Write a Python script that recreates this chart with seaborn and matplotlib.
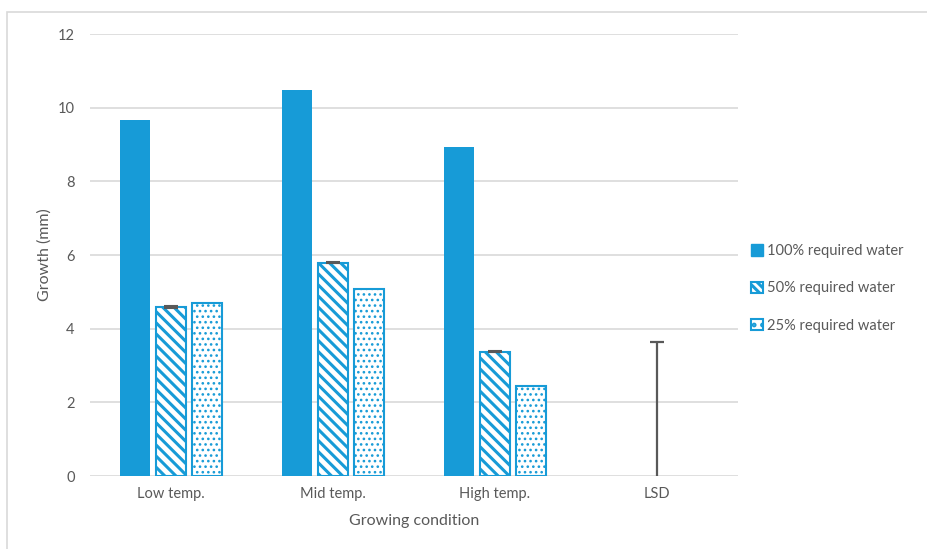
import matplotlib
matplotlib.use("Agg")
import matplotlib.pyplot as plt
import seaborn as sns
import pandas as pd
import numpy as np
from matplotlib.patches import Rectangle, Patch

conditions = ["Low temp.", "Mid temp.", "High temp.", "LSD"]
bar_conditions = ["Low temp.", "Mid temp.", "High temp."]
series = ["100% required water", "50% required water", "25% required water"]
water_100 = [9.67, 10.49, 8.94]
water_50 = [4.59, 5.79, 3.38]
water_25 = [4.71, 5.08, 2.45]
err_50 = [0.02, 0.02, 0.02]
lsd_value = 3.64

BLUE = "#179bd7"
GRID = "#d9d9d9"
TXT = "#595959"

sns.set_theme(style="white")
plt.rcParams["font.family"] = ["Lato", "DejaVu Sans"]
plt.rcParams["hatch.linewidth"] = 2.2

rows = []
for s, vals in zip(series, [water_100, water_50, water_25]):
    for c, v in zip(bar_conditions, vals):
        rows.append({"condition": c, "series": s, "value": v})
df = pd.DataFrame(rows)

fig = plt.figure(figsize=(9.27, 5.49), dpi=100)
ax = fig.add_axes([90/927, 1-476/549, (738-90)/927, (476-34)/549])

sns.barplot(data=df, x="condition", y="value", hue="series", order=conditions,
            hue_order=series, palette=[BLUE]*3, width=0.667, gap=0.17,
            errorbar=None, ax=ax, legend=False, saturation=1)

hatches = [None, "\\\\\\", "..."]
hatch_lw = [None, 2.2, 1.1]
for cont, h, hl in zip(ax.containers, hatches, hatch_lw):
    for p in cont:
        if h is None:
            p.set_facecolor(BLUE)
            p.set_edgecolor(BLUE)
            p.set_linewidth(0)
        else:
            p.set_facecolor("white")
            p.set_edgecolor(BLUE)
            p.set_hatch(h)
            if hasattr(p, "set_hatch_linewidth"):
                p.set_hatch_linewidth(hl)
            p.set_linewidth(1.5)

# tiny error caps on 50% bars
xs50 = [p.get_x() + p.get_width()/2 for p in ax.containers[1]]
ax.errorbar(xs50, water_50, yerr=err_50, fmt="none", ecolor="#595959",
            capsize=5, elinewidth=1.2, capthick=1.5, zorder=5)

# LSD bar
ax.vlines(3, 0, lsd_value, color="#595959", linewidth=1.6, zorder=5)
ax.plot([3], [lsd_value], marker="_", markersize=10, markeredgewidth=1.6,
        color="#595959", zorder=5)

ax.set_xlim(-0.5, 3.5)
ax.set_ylim(0, 12)
ax.set_yticks(range(0, 13, 2))
ax.yaxis.grid(True, color=GRID, linewidth=1.2)
ax.set_axisbelow(True)
for sp in ax.spines.values():
    sp.set_visible(False)
ax.tick_params(axis="both", length=0, labelsize=10.5, colors=TXT, pad=8)
ax.tick_params(axis="y", pad=11)
ax.set_xlabel("Growing condition", fontsize=11.5, color=TXT, labelpad=9)
ax.set_ylabel("Growth (mm)", fontsize=11.5, color=TXT, labelpad=4)

handles = [Patch(facecolor=BLUE, edgecolor=BLUE),
           Patch(facecolor="white", edgecolor=BLUE, hatch="\\\\\\\\", linewidth=1.5),
           Patch(facecolor="white", edgecolor=BLUE, hatch="..", linewidth=1.5)]
leg = fig.legend(handles, series, loc="upper left", bbox_to_anchor=(738/927, 1-231/549),
                 frameon=False, fontsize=10.5, labelspacing=1.6, handlelength=0.8,
                 handleheight=0.8, handletextpad=0.3)
for t in leg.get_texts():
    t.set_color(TXT)

# outer chart border (top and left visible)
fig.patches.append(Rectangle((7/927, -0.05), 1.2, 1.05 - 12/549, transform=fig.transFigure,
                             fill=False, edgecolor=GRID, linewidth=1.2, zorder=0))

fig.savefig("out.png", dpi=100, facecolor="white")
